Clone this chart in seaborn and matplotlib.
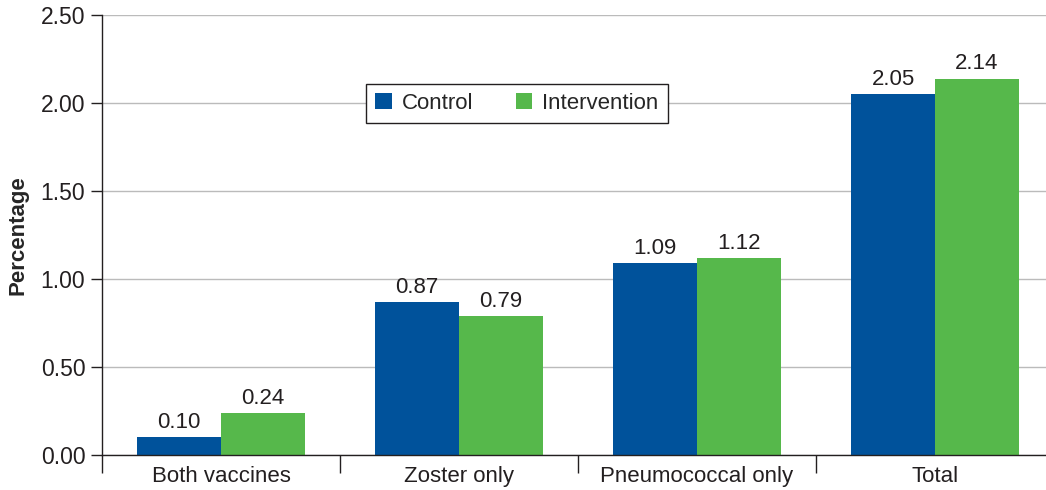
import matplotlib
matplotlib.use("Agg")
import matplotlib.pyplot as plt
import numpy as np
import pandas as pd
import seaborn as sns
from matplotlib.ticker import FixedLocator

CATEGORIES   = ["Both vaccines", "Zoster only", "Pneumococcal only", "Total"]
CONTROL      = [0.10, 0.87, 1.09, 2.05]
INTERVENTION = [0.24, 0.79, 1.12, 2.14]
GROUPS       = ["Control", "Intervention"]
COLORS       = {"Control": "#00529B", "Intervention": "#56B84B"}
FS = 16

df = pd.DataFrame({
    "category": CATEGORIES * 2,
    "group": ["Control"] * 4 + ["Intervention"] * 4,
    "value": CONTROL + INTERVENTION,
})

sns.set_theme(style="white")
plt.rcParams["font.family"] = ["Liberation Sans", "DejaVu Sans"]

fig = plt.figure(figsize=(10.46, 4.9), dpi=100)
ax = fig.add_axes([0.0975, 0.0714, 0.9025, 0.8976])

sns.barplot(data=df, x="category", y="value", hue="group", hue_order=GROUPS,
            palette=COLORS, width=0.705, saturation=1, linewidth=0,
            ax=ax, legend=True)

for cont in ax.containers:
    ax.bar_label(cont, fmt="%.2f", padding=3, fontsize=FS, color="#231f20")

ax.set_ylim(0, 2.5)
ax.set_xlim(-0.5, 3.466)
ax.set_yticks(np.arange(0, 2.51, 0.5))
ax.set_yticklabels([f"{v:.2f}" for v in np.arange(0, 2.51, 0.5)], fontsize=FS + 0.5,
                   color="#231f20")
ax.yaxis.grid(True, color="#bbbbbb", lw=1)
ax.set_axisbelow(True)
ax.tick_params(axis="y", direction="out", length=8, width=1, color="#231f20",
               left=True, pad=4)

ax.tick_params(axis="x", which="major", length=0, labelsize=FS,
               labelcolor="#231f20", pad=8)
ax.xaxis.set_minor_locator(FixedLocator([-0.5, 0.5, 1.5, 2.5]))
ax.tick_params(axis="x", which="minor", bottom=True, direction="out",
               length=13, width=1, color="#231f20")

for s in ["top", "right"]:
    ax.spines[s].set_visible(False)
for s in ["left", "bottom"]:
    ax.spines[s].set_color("#231f20")
    ax.spines[s].set_linewidth(1)

ax.set_xlabel("")
ax.set_ylabel("Percentage", fontsize=FS, fontweight="bold", labelpad=9)

leg = ax.legend(loc="center", bbox_to_anchor=(0.4396, 0.80), ncol=2,
                frameon=True, fancybox=False, fontsize=FS,
                handlelength=0.75, handleheight=0.75, handletextpad=0.45,
                columnspacing=1.9, borderpad=0.4, borderaxespad=0)
leg.get_frame().set_edgecolor("#231f20")
leg.get_frame().set_linewidth(1)
leg.get_frame().set_alpha(1)

fig.savefig("out.png", dpi=100)
